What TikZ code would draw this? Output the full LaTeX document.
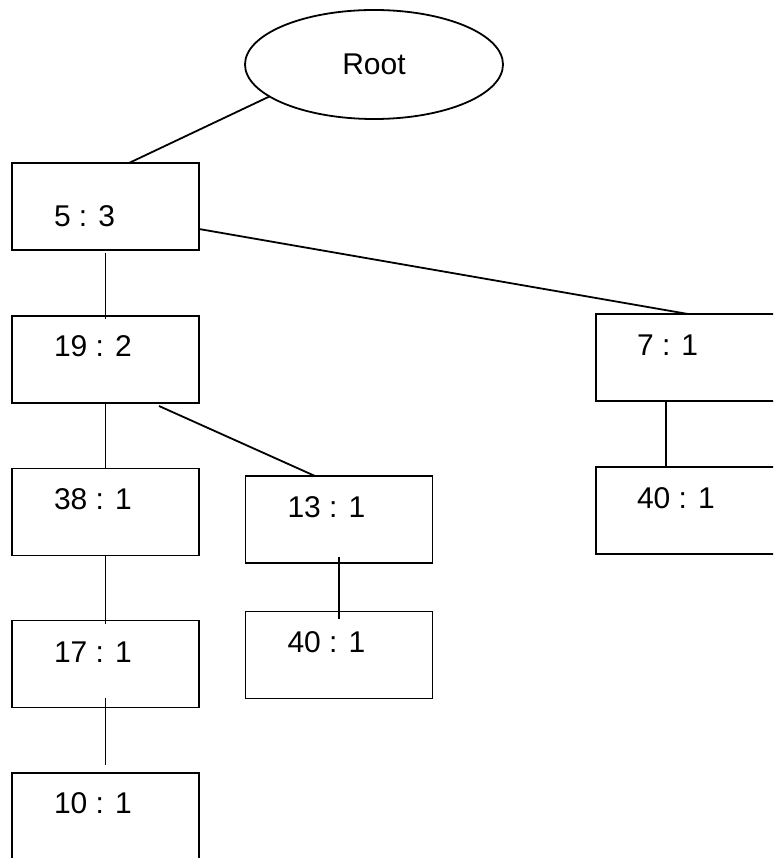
\documentclass[tikz,border=0pt]{standalone}
\usepackage{fontspec}
\setmainfont{Liberation Sans}
\usetikzlibrary{shapes.geometric}
\begin{document}
\begin{tikzpicture}[x=1pt,y=-1pt,
  box/.style={draw=black,line width=1.8pt,rectangle,minimum width=187pt,minimum height=87pt,inner sep=0pt,outer sep=0pt},
  lbl/.style={anchor=base west,inner sep=0pt,outer sep=0pt,font=\fontsize{30}{35}\selectfont},
  link/.style={draw=black,line width=1.8pt}]
\useasboundingbox (0,0) rectangle (773,858);
\clip (0,0) rectangle (773,858);
\fill[white] (0,0) rectangle (773,858);

\node[draw=black,line width=1.8pt,ellipse,minimum width=258pt,minimum height=109pt,inner sep=0pt,outer sep=0pt,font=\fontsize{30}{35}\selectfont] (root) at (374,64.5) {Root};

\node[box] (b53)   at (105.5,206.5) {};
\node[box] (b192)  at (105.5,359.5) {};
\node[box] (b71)   at (689.5,357.5) {};
\node[box] (b381)  at (105.5,512) {};
\node[box] (b131)  at (339,519.5) {};
\node[box] (b401r) at (689.5,510.5) {};
\node[box] (b171)  at (105.5,664) {};
\node[box] (b401m) at (339,655) {};
\node[box] (b101)  at (105.5,816.5) {};

\node[lbl] (t53)   at ([xshift=42pt,yshift=-64pt]b53.north west) {5 : 3};
\node[lbl] (t192)  at ([xshift=42pt,yshift=-40pt]b192.north west) {19 : 2};
\node[lbl] (t71)   at ([xshift=41pt,yshift=-41pt]b71.north west) {7 : 1};
\node[lbl] (t381)  at ([xshift=42pt,yshift=-41pt]b381.north west) {38 : 1};
\node[lbl] (t131)  at ([xshift=42pt,yshift=-41pt]b131.north west) {13 : 1};
\node[lbl] (t401r) at ([xshift=41pt,yshift=-41pt]b401r.north west) {40 : 1};
\node[lbl] (t171)  at ([xshift=42pt,yshift=-42pt]b171.north west) {17 : 1};
\node[lbl] (t401m) at ([xshift=42pt,yshift=-41pt]b401m.north west) {40 : 1};
\node[lbl] (t101)  at ([xshift=42pt,yshift=-40pt]b101.north west) {10 : 1};

\draw[link] (root.197.7) -- ([xshift=23.5pt]b53.north);
\draw[link] ([yshift=-22.5pt]b53.east) -- ([xshift=-1.5pt]b71.north);
\draw[link] ([yshift=-3pt]b53.south) -- ([yshift=-3pt]b192.north);
\draw[link] (b192.south) -- (b381.north);
\draw[link] ([xshift=53.5pt,yshift=-3pt]b192.south) -- ([xshift=-24pt]b131.north);
\draw[link] ([yshift=6pt]b131.south) -- ([yshift=-7pt]b401m.north);
\draw[link] (b381.south) -- ([yshift=-3pt]b171.north);
\draw[link] ([yshift=10pt]b171.south) -- ([yshift=8pt]b101.north);
\draw[link] ([xshift=-23.5pt]b71.south) -- ([xshift=-23.5pt]b401r.north);
\end{tikzpicture}
\end{document}
